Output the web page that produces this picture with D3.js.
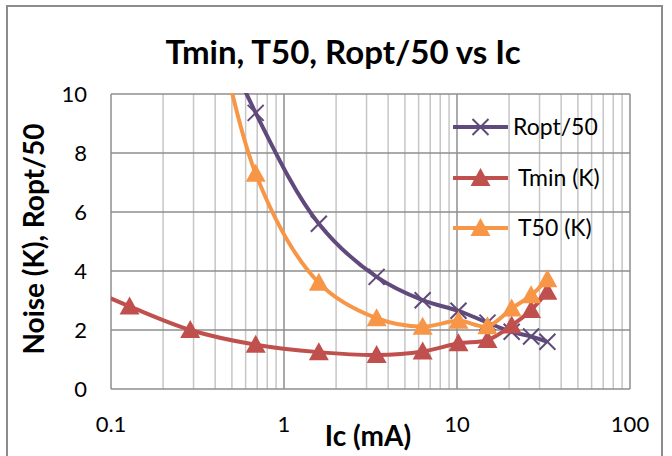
<!DOCTYPE html>
<html>
<head>
<meta charset="utf-8">
<script src="https://cdn.jsdelivr.net/npm/d3@7"></script>
<style>
  body { margin: 0; background: #fff; }
  text { font-family: Lato, "Open Sans", sans-serif; fill: #000; }
</style>
</head>
<body>
<svg width="672" height="456"></svg>
<script>
// data (Ic in mA)
var ic = [0.057, 0.128, 0.287, 0.686, 1.59, 3.43, 6.33, 10.2, 15.0, 20.7, 26.8, 33.3];
var tmin = [3.7, 2.8, 2.0, 1.5, 1.25, 1.15, 1.27, 1.55, 1.66, 2.15, 2.68, 3.3];
// first values of T50 and Ropt/50 are above the axis (only the curve shows)
var t50 = [null, null, 17, 7.3, 3.6, 2.4, 2.11, 2.31, 2.13, 2.73, 3.18, 3.72];
var ropt = [null, null, 14.5, 9.36, 5.6, 3.8, 3.01, 2.65, 2.25, 1.94, 1.78, 1.6];
var xTicks = [0.1, 1, 10, 100];
var yTicks = [0, 2, 4, 6, 8, 10];

var series = [
  {name: 'Ropt/50', values: ropt, color: '#604A7B', marker: 'x'},
  {name: 'Tmin (K)', values: tmin, color: '#C0504D', marker: 'tri'},
  {name: 'T50 (K)', values: t50, color: '#F79646', marker: 'tri'}
];

var svg = d3.select('svg');
var pLeft = 111, pRight = 630, pTop = 94, pBottom = 389;

// outer chart frame
svg.append('rect')
  .attr('x', 7).attr('y', 6).attr('width', 655).attr('height', 470)
  .attr('fill', 'none').attr('stroke', '#8c8c8c').attr('stroke-width', 2);

var x = d3.scaleLog().domain([0.1, 100]).range([pLeft, pRight]);
var y = d3.scaleLinear().domain([0, 10]).range([pBottom, pTop]);

// minor vertical grid
var minor = [];
[0.1, 1, 10].forEach(function(d){
  for (var k = 2; k <= 9; k++) minor.push(d * k);
});
var grid = svg.append('g');
grid.selectAll('.minor').data(minor).enter().append('line')
  .attr('x1', function(d){ return x(d); }).attr('x2', function(d){ return x(d); })
  .attr('y1', pTop).attr('y2', pBottom)
  .attr('stroke', '#c6c6c6').attr('stroke-width', 1.5);
grid.selectAll('.hy').data(yTicks).enter().append('line')
  .attr('x1', pLeft).attr('x2', pRight)
  .attr('y1', function(d){ return y(d); }).attr('y2', function(d){ return y(d); })
  .attr('stroke', '#8e8e8e').attr('stroke-width', 1.5);
grid.selectAll('.major').data(xTicks).enter().append('line')
  .attr('x1', function(d){ return x(d); }).attr('x2', function(d){ return x(d); })
  .attr('y1', pTop).attr('y2', pBottom)
  .attr('stroke', '#8e8e8e').attr('stroke-width', 1.5);

// tick labels
svg.append('g').selectAll('text').data(yTicks).enter().append('text')
  .attr('x', 87).attr('y', function(d){ return y(d) + 8; })
  .attr('text-anchor', 'end').attr('font-size', 22)
  .text(function(d){ return d; });
svg.append('g').selectAll('text').data(xTicks).enter().append('text')
  .attr('x', function(d){ return x(d); }).attr('y', 432)
  .attr('text-anchor', 'middle').attr('font-size', 22)
  .text(function(d){ return d; });

// titles
svg.append('text').attr('x', 343).attr('y', 64)
  .attr('text-anchor', 'middle').attr('font-size', 33).attr('font-weight', 'bold')
  .text('Tmin, T50, Ropt/50 vs Ic');
svg.append('text').attr('x', 368).attr('y', 446)
  .attr('text-anchor', 'middle').attr('font-size', 28).attr('font-weight', 'bold')
  .text('Ic (mA)');
svg.append('text').attr('transform', 'translate(44,239) rotate(-90)')
  .attr('text-anchor', 'middle').attr('font-size', 28).attr('font-weight', 'bold')
  .text('Noise (K), Ropt/50');

// clip to plot area
svg.append('clipPath').attr('id', 'plot')
  .append('rect').attr('x', pLeft).attr('y', pTop - 1)
  .attr('width', pRight - pLeft).attr('height', pBottom - pTop + 1);

var line = d3.line()
  .defined(function(d){ return d[1] != null; })
  .x(function(d){ return x(d[0]); })
  .y(function(d){ return y(d[1]); })
  .curve(d3.curveCatmullRom.alpha(0.5));

function drawMarker(g, kind, color, cx, cy) {
  if (kind == 'tri') {
    g.append('path')
      .attr('d', 'M' + cx + ',' + (cy - 10) + 'L' + (cx + 10) + ',' + (cy + 8) + 'L' + (cx - 10) + ',' + (cy + 8) + 'Z')
      .attr('fill', color);
  } else {
    g.append('path')
      .attr('d', 'M' + (cx - 8) + ',' + (cy - 8) + 'L' + (cx + 8) + ',' + (cy + 8) +
        'M' + (cx + 8) + ',' + (cy - 8) + 'L' + (cx - 8) + ',' + (cy + 8))
      .attr('stroke', color).attr('stroke-width', 2).attr('fill', 'none');
  }
}

var plot = svg.append('g').attr('clip-path', 'url(#plot)');
series.forEach(function(s){
  var pts = ic.map(function(v, i){ return [v, s.values[i]]; });
  plot.append('path').datum(pts)
    .attr('d', line)
    .attr('fill', 'none').attr('stroke', s.color).attr('stroke-width', 4);
  var mg = plot.append('g');
  pts.forEach(function(p){
    if (p[1] == null || p[1] > 10) return;
    drawMarker(mg, s.marker, s.color, x(p[0]), y(p[1]));
  });
});

// legend
var legY = [127, 178, 228];
series.forEach(function(s, i){
  var g = svg.append('g');
  g.append('line').attr('x1', 453).attr('x2', 508)
    .attr('y1', legY[i]).attr('y2', legY[i])
    .attr('stroke', s.color).attr('stroke-width', 4);
  drawMarker(g, s.marker, s.color, 480.5, legY[i]);
  g.append('text').attr('x', i == 0 ? 513 : 518).attr('y', legY[i] + 8)
    .attr('font-size', 23).text(s.name);
});
</script>
</body>
</html>
